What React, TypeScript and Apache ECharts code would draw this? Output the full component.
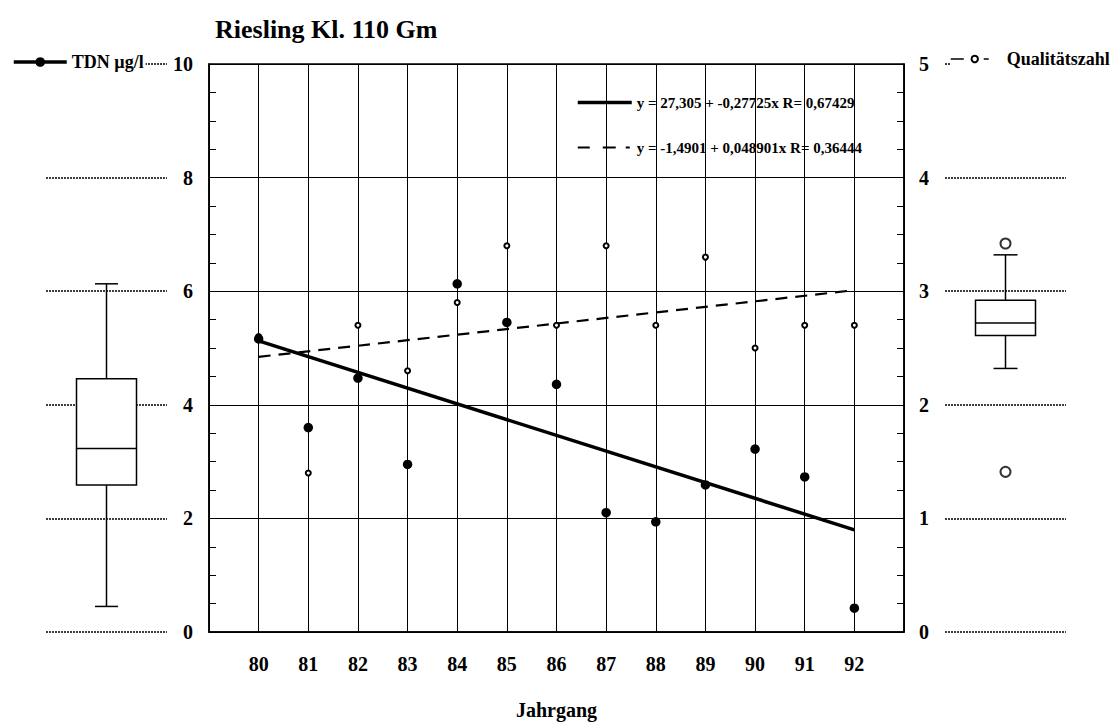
import React, { useEffect, useRef } from "react";
import * as echarts from "echarts";

// ---- data ----
const years = [80, 81, 82, 83, 84, 85, 86, 87, 88, 89, 90, 91, 92];
const tdnValues = [5.16, 3.6, 4.47, 2.95, 6.13, 5.45, 4.36, 2.1, 1.94, 2.59, 3.22, 2.73, 0.42];
const qualityValues = [2.6, 1.4, 2.7, 2.3, 2.9, 3.4, 2.7, 3.4, 2.7, 3.3, 2.5, 2.7, 2.7];

// regression equations as printed in the chart
const tdnFit = [27.305, -0.27725];
const qualityFit = [-1.4901, 0.048901];
const tdnFitLabel = "y = 27,305 + -0,27725x R= 0,67429";
const qualityFitLabel = "y = -1,4901 + 0,048901x R= 0,36444";

// box plots: [min, Q1, median, Q3, max]
const tdnBox = [0.45, 2.59, 3.23, 4.46, 6.13];
const qualityBox = [2.32, 2.61, 2.72, 2.92, 3.32];
const qualityOutliers = [3.42, 1.41];

const tdnName = "TDN µg/l";
const qualityName = "Qualitätszahl";
const titleText = "Riesling Kl. 110 Gm";
const xName = "Jahrgang";

const FONT = "'Liberation Serif', 'Times New Roman', serif";
const BLACK = "#000";

const boxRender = (halfBox: number, halfCap: number) => (params: any, api: any) => {
  const x = api.value(0);
  const pMin = api.coord([x, api.value(1)]);
  const pQ1 = api.coord([x, api.value(2)]);
  const pMed = api.coord([x, api.value(3)]);
  const pQ3 = api.coord([x, api.value(4)]);
  const pMax = api.coord([x, api.value(5)]);
  const cx = pMin[0];
  const st = { stroke: BLACK, lineWidth: 1.5, fill: "none" };
  return {
    type: "group",
    children: [
      { type: "line", shape: { x1: cx, y1: pMax[1], x2: cx, y2: pQ3[1] }, style: st },
      { type: "line", shape: { x1: cx, y1: pQ1[1], x2: cx, y2: pMin[1] }, style: st },
      { type: "line", shape: { x1: cx - halfCap, y1: pMax[1], x2: cx + halfCap, y2: pMax[1] }, style: st },
      { type: "line", shape: { x1: cx - halfCap, y1: pMin[1], x2: cx + halfCap, y2: pMin[1] }, style: st },
      {
        type: "rect",
        shape: { x: cx - halfBox, y: pQ3[1], width: halfBox * 2, height: pQ1[1] - pQ3[1] },
        style: { fill: "#fff", stroke: BLACK, lineWidth: 1.5 },
      },
      { type: "line", shape: { x1: cx - halfBox, y1: pMed[1], x2: cx + halfBox, y2: pMed[1] }, style: st },
    ],
  };
};

export default function App() {
  const ref = useRef<HTMLDivElement>(null);

  useEffect(() => {
    if (!ref.current) return;
    const chart = echarts.init(ref.current, null, { renderer: "svg" });

    const labelStyle = { color: BLACK, fontFamily: FONT, fontWeight: "bold", fontSize: 20 };
    const dotted = { color: BLACK, width: 1.5, type: [2, 1] };

    const option: any = {
      animation: false,
      backgroundColor: "#fff",
      title: {
        text: titleText,
        left: 210,
        top: 11,
        textStyle: { color: BLACK, fontFamily: FONT, fontWeight: "bold", fontSize: 26 },
      },
      legend: [
        {
          data: [tdnName],
          left: 12,
          top: 53,
          padding: [0, 2, 0, 0],
          itemWidth: 53,
          itemHeight: 12,
          selectedMode: false,
          backgroundColor: "#fff",
          lineStyle: { width: 3.5, opacity: 1, color: BLACK, type: "solid" },
          textStyle: { color: BLACK, fontFamily: FONT, fontWeight: "bold", fontSize: 18 },
        },
        {
          data: [qualityName],
          left: 950,
          top: 50,
          padding: [0, 2, 0, 0],
          itemWidth: 48,
          itemHeight: 8,
          selectedMode: false,
          backgroundColor: "#fff",
          lineStyle: { width: 1.5, opacity: 1, color: BLACK, type: [13, 20, 5, 100] },
          textStyle: { color: BLACK, fontFamily: FONT, fontWeight: "bold", fontSize: 18, padding: [0, 0, 0, 3] },
        },
        {
          data: [
            { name: tdnFitLabel, lineStyle: { width: 3.5, color: BLACK, opacity: 1, type: "solid" } },
            { name: qualityFitLabel, lineStyle: { width: 2, color: BLACK, opacity: 1, type: [12, 13, 13, 10, 4, 10] } },
          ],
          orient: "vertical",
          left: 576,
          top: 95,
          padding: 0,
          itemWidth: 54,
          itemHeight: 14,
          itemGap: 30,
          selectedMode: false,
          itemStyle: { opacity: 0 },
          textStyle: { color: BLACK, fontFamily: FONT, fontWeight: "bold", fontSize: 15 },
        },
      ],
      grid: [
        { left: 209, top: 64, width: 695, height: 568, show: true, borderColor: BLACK, borderWidth: 1.5, backgroundColor: "transparent" },
        { left: 46, top: 64, width: 121, height: 568 },
        { left: 945, top: 64, width: 121, height: 568 },
      ],
      xAxis: [
        {
          gridIndex: 0,
          type: "value",
          min: 79,
          max: 93,
          interval: 1,
          axisLine: { lineStyle: { color: BLACK, width: 1.5 } },
          axisTick: { show: false },
          axisLabel: {
            ...labelStyle,
            margin: 22,
            formatter: (v: number) => (years.indexOf(v) >= 0 ? String(v) : ""),
          },
          splitLine: { show: true, lineStyle: { color: BLACK, width: 1 } },
          name: xName,
          nameLocation: "middle",
          nameGap: 68,
          nameTextStyle: { ...labelStyle },
        },
        { gridIndex: 1, type: "value", min: 0, max: 1, show: false },
        { gridIndex: 2, type: "value", min: 0, max: 1, show: false },
      ],
      yAxis: [
        {
          gridIndex: 0,
          type: "value",
          min: 0,
          max: 10,
          interval: 2,
          axisLine: { show: true, lineStyle: { color: BLACK, width: 1.5 } },
          axisTick: { show: true, inside: true, length: 7, lineStyle: { color: BLACK } },
          minorTick: { show: true, splitNumber: 4, length: 7, lineStyle: { color: BLACK } },
          axisLabel: { ...labelStyle, margin: 16 },
          splitLine: { show: true, lineStyle: { color: BLACK, width: 1.2 } },
        },
        {
          gridIndex: 0,
          type: "value",
          position: "right",
          min: 0,
          max: 5,
          interval: 1,
          axisLine: { show: true, lineStyle: { color: BLACK, width: 1.5 } },
          axisTick: { show: true, inside: true, length: 7, lineStyle: { color: BLACK } },
          minorTick: { show: true, splitNumber: 4, length: 7, lineStyle: { color: BLACK } },
          axisLabel: { ...labelStyle, margin: 15 },
          splitLine: { show: false },
        },
        {
          gridIndex: 1,
          type: "value",
          min: 0,
          max: 10,
          interval: 2,
          axisLine: { show: false },
          axisTick: { show: false },
          axisLabel: { show: false },
          splitLine: { show: true, lineStyle: dotted },
        },
        {
          gridIndex: 2,
          type: "value",
          min: 0,
          max: 5,
          interval: 1,
          axisLine: { show: false },
          axisTick: { show: false },
          axisLabel: { show: false },
          splitLine: { show: true, lineStyle: dotted },
        },
      ],
      series: [
        {
          name: tdnFitLabel,
          type: "line",
          xAxisIndex: 0,
          yAxisIndex: 0,
          symbol: "none",
          data: [years[0], years[years.length - 1]].map((x) => [x, tdnFit[0] + tdnFit[1] * x]),
          lineStyle: { color: BLACK, width: 3.5 },
          itemStyle: { color: BLACK },
          z: 3,
        },
        {
          name: qualityFitLabel,
          type: "line",
          xAxisIndex: 0,
          yAxisIndex: 1,
          symbol: "none",
          data: [years[0], years[years.length - 1]].map((x) => [x, qualityFit[0] + qualityFit[1] * x]),
          lineStyle: { color: BLACK, width: 2.2, type: [12, 8] },
          itemStyle: { color: BLACK },
          z: 3,
        },
        {
          name: qualityName,
          type: "line",
          xAxisIndex: 0,
          yAxisIndex: 1,
          symbol: "emptyCircle",
          symbolSize: 5,
          data: years.map((y, i) => [y, qualityValues[i]]),
          lineStyle: { width: 0, opacity: 0 },
          itemStyle: { color: BLACK, borderWidth: 1.3 },
          z: 4,
        },
        {
          name: tdnName,
          type: "line",
          xAxisIndex: 0,
          yAxisIndex: 0,
          symbol: "circle",
          symbolSize: 9.5,
          data: years.map((y, i) => [y, tdnValues[i]]),
          lineStyle: { width: 0, opacity: 0 },
          itemStyle: { color: BLACK },
          z: 5,
        },
        {
          name: "TDN box",
          type: "custom",
          xAxisIndex: 1,
          yAxisIndex: 2,
          renderItem: boxRender(30, 11.5),
          encode: { x: 0, y: [1, 2, 3, 4, 5] },
          data: [[0.5, ...tdnBox]],
          z: 3,
        },
        {
          name: "Qualität box",
          type: "custom",
          xAxisIndex: 2,
          yAxisIndex: 3,
          renderItem: boxRender(30, 12),
          encode: { x: 0, y: [1, 2, 3, 4, 5] },
          data: [[0.5, ...qualityBox]],
          z: 3,
        },
        {
          name: "Qualität outliers",
          type: "scatter",
          xAxisIndex: 2,
          yAxisIndex: 3,
          symbol: "emptyCircle",
          symbolSize: 10,
          data: qualityOutliers.map((v) => [0.5, v]),
          itemStyle: { color: BLACK, borderWidth: 1 },
          z: 4,
        },
      ],
    };

    chart.setOption(option);
    return () => chart.dispose();
  }, []);

  return (
    <div
      ref={ref}
      style={{ position: "fixed", left: 0, top: 0, width: 1120, height: 726, background: "#fff" }}
    />
  );
}
